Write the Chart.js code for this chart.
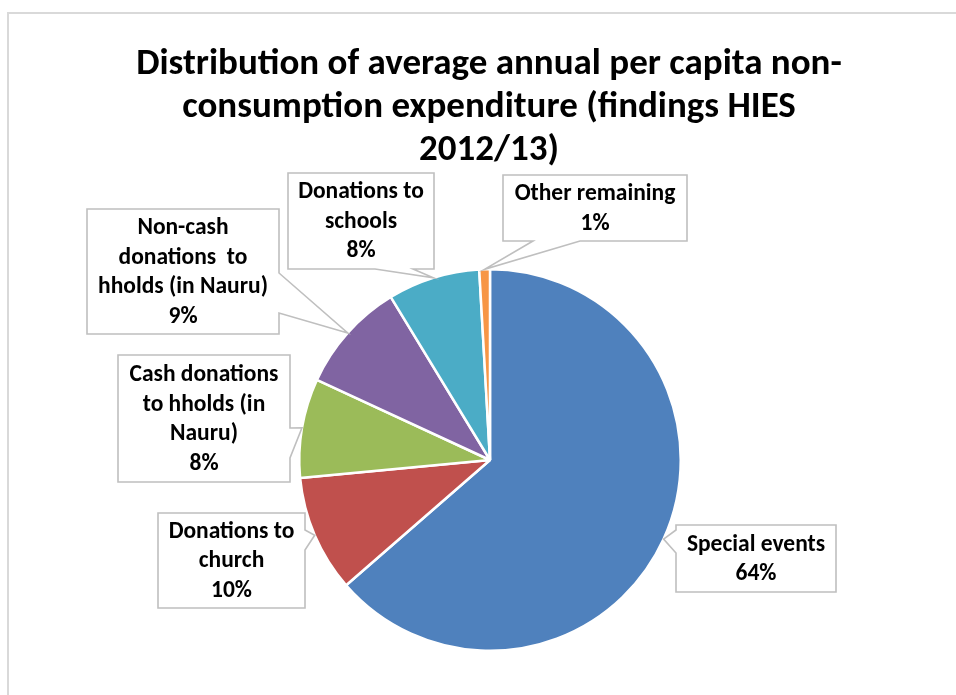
<!DOCTYPE html>
<html>
<head>
<meta charset="utf-8">
<title>Non-consumption expenditure</title>
<script src="https://cdn.jsdelivr.net/npm/chart.js@4"></script>
<style>
  body { margin: 0; background: #fff; }
  canvas { display: block; }
</style>
</head>
<body>
<canvas id="myPie" width="956" height="695"></canvas>
<script>
// categories (already broken into lines for the callouts) and their shares in %
const categories = [
  ['Special events'],
  ['Donations to', 'church'],
  ['Cash donations', 'to hholds (in', 'Nauru)'],
  ['Non-cash', 'donations  to', 'hholds (in Nauru)'],
  ['Donations to', 'schools'],
  ['Other remaining']
];
const shares = [63.6, 9.9, 8.4, 9.4, 7.8, 0.9];
const colors = ['#4F81BD', '#C0504D', '#9BBB59', '#8064A2', '#4BACC6', '#F79646'];

const titleLines = [
  'Distribution of average annual per capita non-',
  'consumption expenditure (findings HIES',
  '2012/13)'
];

const FONT = 'Carlito, Calibri, Lato, sans-serif';

// callout boxes, one per slice: box + which side the pointer leaves from
const callouts = [
  { x: 676, y: 525, w: 160, h: 67, side: 'left', from: 530, to: 553 },
  { x: 158, y: 513, w: 147, h: 95, side: 'right', from: 530, to: 550 },
  { x: 118, y: 355, w: 172, h: 127, side: 'right', from: 428, to: 458 },
  { x: 87, y: 209, w: 192, h: 125, side: 'right', from: 273, to: 313 },
  { x: 288, y: 173, w: 146, h: 96, side: 'bottom', from: 375, to: 413 },
  { x: 503, y: 175, w: 184, h: 66, side: 'bottom', from: 533, to: 580 }
];

function calloutPath(ctx, b, tip) {
  ctx.beginPath();
  ctx.moveTo(b.x, b.y);
  ctx.lineTo(b.x + b.w, b.y);
  if (b.side === 'right') {
    ctx.lineTo(b.x + b.w, b.from);
    ctx.lineTo(tip.x, tip.y);
    ctx.lineTo(b.x + b.w, b.to);
  }
  ctx.lineTo(b.x + b.w, b.y + b.h);
  if (b.side === 'bottom') {
    ctx.lineTo(b.to, b.y + b.h);
    ctx.lineTo(tip.x, tip.y);
    ctx.lineTo(b.from, b.y + b.h);
  }
  ctx.lineTo(b.x, b.y + b.h);
  if (b.side === 'left') {
    ctx.lineTo(b.x, b.to);
    ctx.lineTo(tip.x, tip.y);
    ctx.lineTo(b.x, b.from);
  }
  ctx.closePath();
}

const frameAndTitle = {
  id: 'frameAndTitle',
  beforeDraw(chart) {
    const ctx = chart.ctx;
    ctx.save();
    ctx.strokeStyle = '#d9d9d9';
    ctx.lineWidth = 2;
    ctx.beginPath();
    ctx.moveTo(8, 700);
    ctx.lineTo(8, 13);
    ctx.lineTo(960, 13);
    ctx.stroke();

    ctx.fillStyle = '#000';
    ctx.font = 'bold 37px ' + FONT;
    ctx.textAlign = 'center';
    ctx.textBaseline = 'alphabetic';
    titleLines.forEach((t, i) => ctx.fillText(t, 489, 74 + i * 43));
    ctx.restore();
  }
};

const calloutLabels = {
  id: 'calloutLabels',
  afterDatasetsDraw(chart) {
    const ctx = chart.ctx;
    const arcs = chart.getDatasetMeta(0).data;
    const values = chart.data.datasets[0].data;
    const total = values.reduce((a, b) => a + b, 0);
    ctx.save();
    arcs.forEach((arc, i) => {
      const b = callouts[i];
      const mid = (arc.startAngle + arc.endAngle) / 2;
      const tip = {
        x: arc.x + Math.cos(mid) * arc.outerRadius,
        y: arc.y + Math.sin(mid) * arc.outerRadius
      };
      calloutPath(ctx, b, tip);
      ctx.fillStyle = '#fff';
      ctx.fill();
      ctx.strokeStyle = '#bfbfbf';
      ctx.lineWidth = 1.6;
      ctx.stroke();

      const lines = categories[i].concat([Math.round(values[i] / total * 100) + '%']);
      const lh = 29.6;
      const cx = b.x + b.w / 2;
      const top = b.y + b.h / 2 - (lines.length - 1) * lh / 2;
      ctx.fillStyle = '#000';
      ctx.font = 'bold 23.5px ' + FONT;
      ctx.textAlign = 'center';
      ctx.textBaseline = 'middle';
      lines.forEach((t, k) => ctx.fillText(t, cx, top + k * lh + 1));
    });
    ctx.restore();
  }
};

new Chart(document.getElementById('myPie'), {
  type: 'pie',
  data: {
    labels: categories.map(c => c.join(' ')),
    datasets: [{
      data: shares,
      backgroundColor: colors,
      borderColor: '#fff',
      borderWidth: 2.5
    }]
  },
  options: {
    responsive: false,
    animation: false,
    layout: { padding: { top: 268, bottom: 43, left: 298, right: 274 } },
    plugins: {
      legend: { display: false },
      title: { display: false },
      tooltip: { enabled: false }
    }
  },
  plugins: [frameAndTitle, calloutLabels]
});
</script>
</body>
</html>
